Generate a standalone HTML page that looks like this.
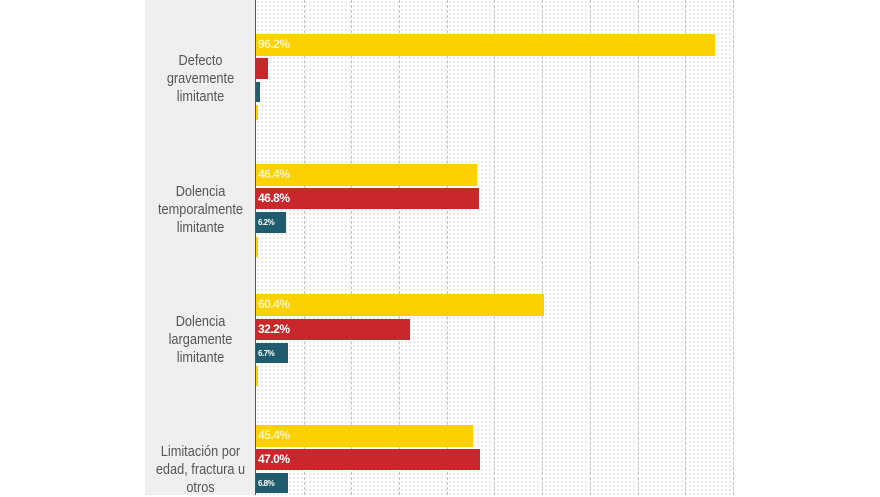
<!DOCTYPE html><html><head><style>
body{margin:0;width:880px;height:495px;overflow:hidden;background:#fff;font-family:"Liberation Sans",sans-serif;position:relative}
.panel{position:absolute;left:145px;top:0;width:111px;height:495px;background:#efefef}
.plot{position:absolute;left:256px;top:0;width:478px;height:495px;background-image:radial-gradient(circle,#dcdcdc 0.7px,transparent 1px);background-size:4px 4px}
.axis{position:absolute;left:255px;top:0;width:1px;height:495px;background:#555}
.g{position:absolute;top:0;width:0;height:495px;border-left:1px dashed #c4c4c4}
.b{position:absolute;left:256px;color:#fff;font-weight:bold;font-size:12px;letter-spacing:-0.5px;box-sizing:border-box;padding-left:2px;line-height:21px;white-space:nowrap;overflow:visible}
.y{background:#fdd000;color:#fff6c0}.r{background:#c8282c}.t{background:#1f5c6e;font-size:8px}
.l{position:absolute;left:145px;width:111px;text-align:center;color:#555;font-size:15px;line-height:18px;transform:scaleX(0.85)}
</style></head><body>
<div class="panel"></div><div class="plot"></div>
<div class="g" style="left:304px"></div><div class="g" style="left:351px"></div><div class="g" style="left:399px"></div><div class="g" style="left:447px"></div><div class="g" style="left:494px"></div><div class="g" style="left:542px"></div><div class="g" style="left:590px"></div><div class="g" style="left:638px"></div><div class="g" style="left:685px"></div><div class="g" style="left:733px"></div>
<div class="axis"></div>
<div class="b y" style="top:34px;height:22px;width:459px">96.2%</div>
<div class="b r" style="top:58px;height:21px;width:12px"></div>
<div class="b t" style="top:82px;height:20px;width:4px"></div>
<div class="b y" style="top:105px;height:15px;width:1px"></div>
<div class="b y" style="top:164px;height:22px;width:221px">46.4%</div>
<div class="b r" style="top:188px;height:21px;width:223px">46.8%</div>
<div class="b t" style="top:212px;height:21px;width:30px;line-height:21px">6.2%</div>
<div class="b y" style="top:237px;height:20px;width:2px"></div>
<div class="b y" style="top:294px;height:22px;width:288px">60.4%</div>
<div class="b r" style="top:319px;height:21px;width:154px">32.2%</div>
<div class="b t" style="top:343px;height:20px;width:32px">6.7%</div>
<div class="b y" style="top:366px;height:20px;width:2px"></div>
<div class="b y" style="top:425px;height:22px;width:217px">45.4%</div>
<div class="b r" style="top:449px;height:21px;width:224px">47.0%</div>
<div class="b t" style="top:473px;height:20px;width:32px">6.8%</div>
<div class="l" style="top:52px">Defecto<br>gravemente<br>limitante</div>
<div class="l" style="top:183px">Dolencia<br>temporalmente<br>limitante</div>
<div class="l" style="top:313px">Dolencia<br>largamente<br>limitante</div>
<div class="l" style="top:443px">Limitación por<br>edad, fractura u<br>otros</div>
</body></html>
